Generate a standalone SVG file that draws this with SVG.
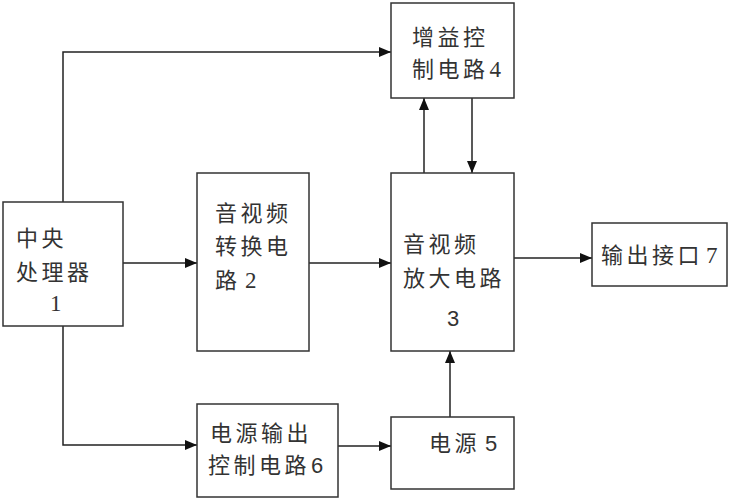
<svg xmlns="http://www.w3.org/2000/svg" width="729" height="500" viewBox="0 0 729 500">
<defs>
<marker id="ah" markerWidth="12" markerHeight="10" refX="12" refY="5" orient="auto" markerUnits="userSpaceOnUse">
<path d="M0,0 L12,5 L0,10 Z" fill="#111"/>
</marker>
<style>
.box{fill:#fff;stroke:#333;stroke-width:1.5}
.ln{fill:none;stroke:#222;stroke-width:1.5}
.cj{font-family:"Noto Sans CJK SC","Noto Sans",sans-serif;font-size:22px;fill:#333;letter-spacing:3.5px}
.se{font-family:"Liberation Serif",serif;font-size:23px;fill:#333;letter-spacing:0}
.sa{font-family:"Liberation Sans",sans-serif;font-size:22px;fill:#333;letter-spacing:0}
</style>
</defs>
<rect width="729" height="500" fill="#fff"/>
<g id="connectors">
<polyline class="ln" points="63,202 63,52 391,52" marker-end="url(#ah)"/>
<line class="ln" x1="123" y1="263" x2="197" y2="263" marker-end="url(#ah)"/>
<line class="ln" x1="309" y1="263" x2="391" y2="263" marker-end="url(#ah)"/>
<line class="ln" x1="424" y1="173" x2="424" y2="98" marker-end="url(#ah)"/>
<line class="ln" x1="472" y1="98" x2="472" y2="173" marker-end="url(#ah)"/>
<line class="ln" x1="514" y1="258" x2="592" y2="258" marker-end="url(#ah)"/>
<polyline class="ln" points="63,326 63,445 197,445" marker-end="url(#ah)"/>
<line class="ln" x1="338" y1="446" x2="391" y2="446" marker-end="url(#ah)"/>
<line class="ln" x1="450" y1="417" x2="450" y2="351" marker-end="url(#ah)"/>
</g>
<g id="cpu">
<rect class="box" x="3" y="202" width="120" height="124"/>
<text class="cj" x="16" y="246">中央</text>
<text class="cj" x="16" y="280">处理器</text>
<text class="se" x="50" y="311">1</text>
</g>
<g id="conv">
<rect class="box" x="197" y="173" width="112" height="178"/>
<text class="cj" x="215" y="221">音视频</text>
<text class="cj" x="215" y="254">转换电</text>
<text class="cj" x="215" y="288">路</text>
<text class="se" x="245" y="288">2</text>
</g>
<g id="gain">
<rect class="box" x="391" y="3" width="123" height="95"/>
<text class="cj" x="412" y="45">增益控</text>
<text class="cj" x="412" y="77">制电路</text>
<text class="se" x="489.5" y="77">4</text>
</g>
<g id="amp">
<rect class="box" x="391" y="173" width="123" height="178"/>
<text class="cj" x="403" y="252">音视频</text>
<text class="cj" x="403" y="286">放大电路</text>
<text class="sa" x="447" y="326">3</text>
</g>
<g id="out">
<rect class="box" x="592" y="223" width="135" height="63"/>
<text class="cj" x="601" y="263">输出接口</text>
<text class="se" x="706" y="263">7</text>
</g>
<g id="pctrl">
<rect class="box" x="197" y="404" width="141" height="93"/>
<text class="cj" x="210" y="441">电源输出</text>
<text class="cj" x="208" y="473">控制电路</text>
<text class="sa" x="311" y="473">6</text>
</g>
<g id="power">
<rect class="box" x="391" y="417" width="123" height="72"/>
<text class="cj" x="429" y="451">电源</text>
<text class="sa" x="485" y="451">5</text>
</g>
</svg>
